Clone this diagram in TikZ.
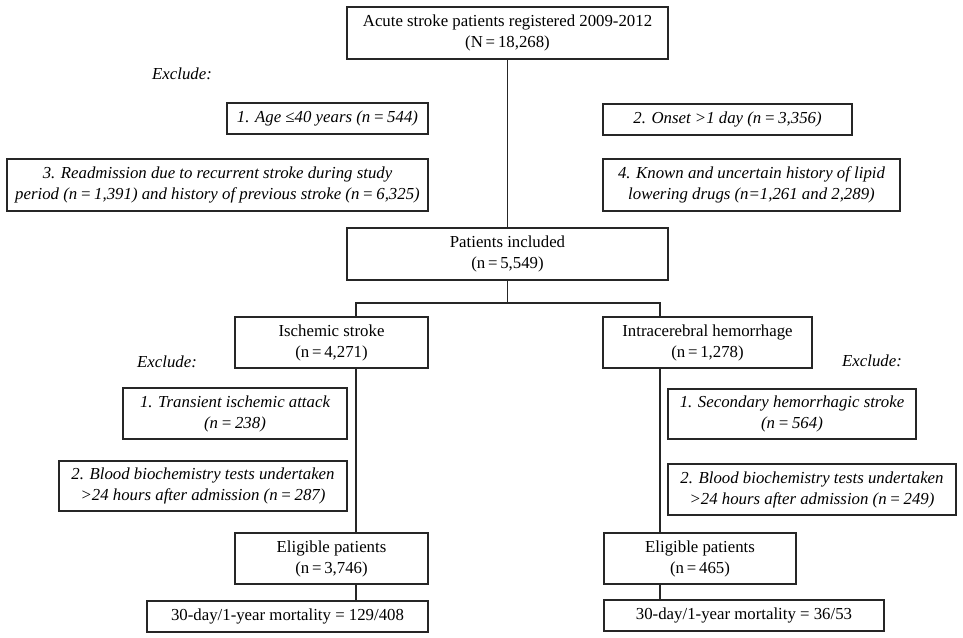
\documentclass[tikz,border=0pt]{standalone}
\usepackage{fontspec}
\setmainfont{Liberation Serif}
\begin{document}
\begin{tikzpicture}[x=1pt,y=-1pt,
  box/.style={draw=black!85,line width=1.1pt,rectangle,inner sep=0pt,align=center,font=\fontsize{16.8}{21}\selectfont},
  ibox/.style={box,font=\fontsize{16.8}{21}\selectfont\itshape},
  lbl/.style={inner sep=0pt,font=\fontsize{16.8}{21}\selectfont\itshape},
  conn/.style={draw=black!85,line width=1.1pt}]
\useasboundingbox (0,0) rectangle (963,637);
\fill[white] (0,0) rectangle (963,637);
\node[box,minimum width=321,minimum height=52] (top) at (507.5,33) {Acute stroke patients registered 2009-2012\\(N\,=\,18,268)};
\node[lbl] (exA) at (182,74) {Exclude:};
\node[ibox,minimum width=201,minimum height=31] (b1) at (327.5,118.5) {1. Age ≤40 years (n\,=\,544)};
\node[ibox,minimum width=249,minimum height=31] (b2) at (727.5,119.5) {2. Onset >1 day (n\,=\,3,356)};
\node[ibox,minimum width=421,minimum height=52] (b3) at (217.5,185) {3. Readmission due to recurrent stroke during study\\period (n\,=\,1,391) and history of previous stroke (n\,=\,6,325)};
\node[ibox,minimum width=297,minimum height=52] (b4) at (751.5,185) {4. Known and uncertain history of lipid\\lowering drugs (n=1,261 and 2,289)};
\node[box,minimum width=321,minimum height=52] (incl) at (507.5,254) {Patients included\\(n\,=\,5,549)};
\node[box,minimum width=193,minimum height=51] (isch) at (331.5,342.5) {Ischemic stroke\\(n\,=\,4,271)};
\node[box,minimum width=209,minimum height=51] (ich) at (707.5,342.5) {Intracerebral hemorrhage\\(n\,=\,1,278)};
\node[lbl] (exL) at (167,362) {Exclude:};
\node[lbl] (exR) at (872,361) {Exclude:};
\node[ibox,minimum width=224,minimum height=51] (l1) at (235,413.5) {1. Transient ischemic attack\\(n\,=\,238)};
\node[ibox,minimum width=288,minimum height=50] (l2) at (203,486) {2. Blood biochemistry tests undertaken\\>24 hours after admission (n\,=\,287)};
\node[box,minimum width=193,minimum height=51] (elL) at (331.5,558.5) {Eligible patients\\(n\,=\,3,746)};
\node[box,minimum width=281,minimum height=31] (moL) at (287.5,616.5) {30-day/1-year mortality = 129/408};
\node[ibox,minimum width=248,minimum height=50] (r1) at (792,414) {1. Secondary hemorrhagic stroke\\(n\,=\,564)};
\node[ibox,minimum width=288,minimum height=51] (r2) at (812,489.5) {2. Blood biochemistry tests undertaken\\>24 hours after admission (n\,=\,249)};
\node[box,minimum width=192,minimum height=51] (elR) at (700,558.5) {Eligible patients\\(n\,=\,465)};
\node[box,minimum width=280,minimum height=31] (moR) at (744,615.5) {30-day/1-year mortality = 36/53};
\coordinate (bl) at (356,303);
\coordinate (br) at (660,303);
\draw[conn] (top.south) -- (incl.north);
\draw[conn] (incl.south) -- (incl.south |- bl);
\draw[conn] (isch.north -| bl) -- (bl) -- (br) -- (ich.north -| br);
\draw[conn] (isch.south -| bl) -- (elL.north -| bl);
\draw[conn] (elL.south -| bl) -- (moL.north -| bl);
\draw[conn] (ich.south -| br) -- (elR.north -| br);
\draw[conn] (elR.south -| br) -- (moR.north -| br);
\end{tikzpicture}
\end{document}
